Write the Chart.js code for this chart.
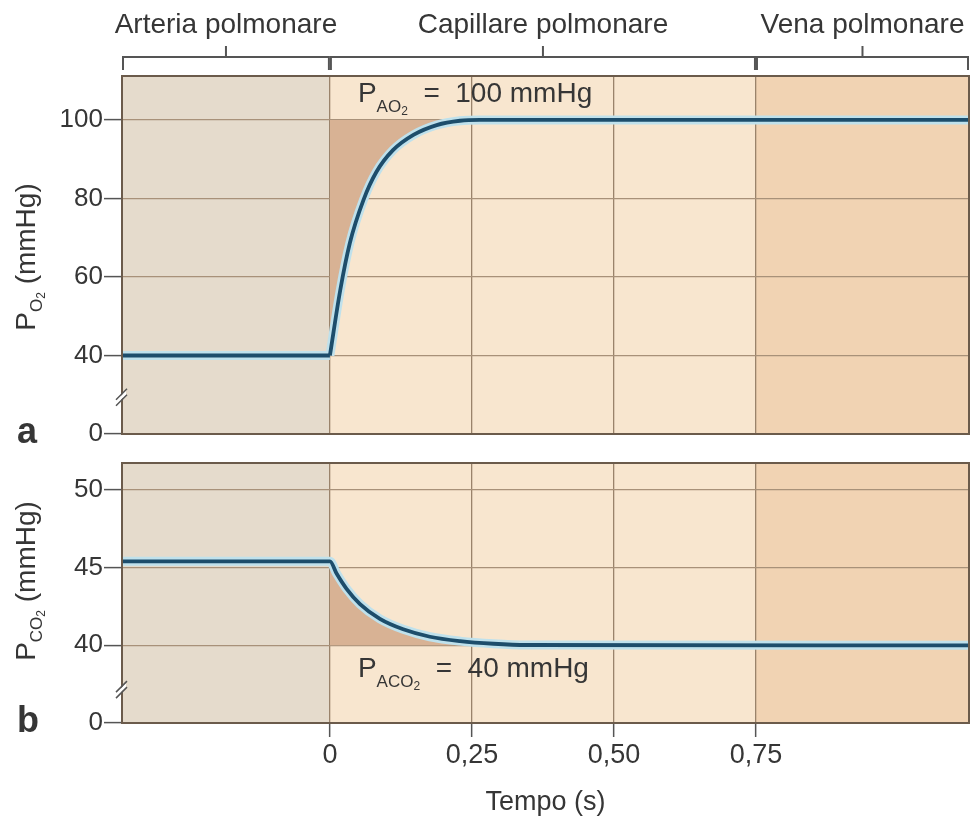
<!DOCTYPE html>
<html lang="it">
<head>
<meta charset="UTF-8">
<title>PO2 e PCO2 lungo il capillare polmonare</title>
<script src="https://cdn.jsdelivr.net/npm/chart.js"></script>
<style>
  body { margin: 0; background: #ffffff; }
  .wrap { position: relative; width: 974px; height: 823px; }
  canvas { position: absolute; left: 0; }
  #graficoO2 { top: 0; }
  #graficoCO2 { top: 445px; }
</style>
</head>
<body>
<div class="wrap">
  <canvas id="graficoO2" width="974" height="445"></canvas>
  <canvas id="graficoCO2" width="974" height="378"></canvas>
</div>
<script>
// --- Dati ---
const tempoO2   = [-0.366, 0, 0.018, 0.035, 0.059, 0.082, 0.111, 0.147, 0.188, 0.229, 0.264, 1.125];
const valoriO2  = [40, 40, 56.5, 68.6, 79.6, 86.8, 92.3, 96.2, 98.7, 99.8, 100, 100];
const tempoCO2  = [-0.366, 0, 0.012, 0.029, 0.053, 0.088, 0.129, 0.176, 0.229, 0.288, 0.346, 1.125];
const valoriCO2 = [45.4, 45.4, 44.6, 43.65, 42.65, 41.7, 41.03, 40.55, 40.27, 40.1, 40.02, 40];

const tickTempo      = [0, 0.25, 0.5, 0.75];
const etichetteTempo = ['0', '0,25', '0,50', '0,75'];
// il primo tick sta sotto l'interruzione dell'asse e vale "0"
const tickO2         = [20, 40, 60, 80, 100];
const etichetteO2    = ['0', '40', '60', '80', '100'];
const tickCO2        = [35, 40, 45, 50];
const etichetteCO2   = ['0', '40', '45', '50'];

const zone       = ['Arteria polmonare', 'Capillare polmonare', 'Vena polmonare'];
const limitiZone = [-0.366, 0, 0.75, 1.125];
const PAO2 = 100;
const PACO2 = 40;

const FONT = '"Liberation Sans", Arial, Helvetica, sans-serif';
const TESTO = '#363636';
Chart.defaults.font.family = FONT;
Chart.defaults.color = TESTO;

// disegna una sequenza di pezzi di testo [testo, spostamento verticale, dimensione]
function scriviRuns(ctx, x, y, runs) {
  for (const [t, dy, size] of runs) {
    ctx.font = size + 'px ' + FONT;
    ctx.fillText(t, x, y + dy);
    x += ctx.measureText(t).width;
  }
  return x;
}
function larghezzaRuns(ctx, runs) {
  let w = 0;
  for (const [t, , size] of runs) {
    ctx.font = size + 'px ' + FONT;
    w += ctx.measureText(t).width;
  }
  return w;
}

function punti(tempo, valori, da, a) {
  return tempo.slice(da, a).map((t, i) => ({ x: t, y: valori[da + i] }));
}

// spigolo = true: il tratto piano e la curva sono due linee separate (angolo vivo a t = 0)
function datasetsCurva(tempo, valori, riferimento, spigolo) {
  const tratti = spigolo
    ? [punti(tempo, valori, 0, 2), punti(tempo, valori, 1)]
    : [punti(tempo, valori, 0)];
  const curva = punti(tempo, valori, 1);
  const base = { pointRadius: 0, fill: false, cubicInterpolationMode: 'monotone' };
  const out = [];
  for (const d of tratti) {
    out.push({ ...base, data: d, borderColor: '#1d4d6b', borderWidth: 3.8, order: 0 });
    out.push({ ...base, data: d, borderColor: '#bfe1ec', borderWidth: 9, order: 1 });
  }
  out.push({ ...base, data: curva, borderWidth: 0, borderColor: 'rgba(0,0,0,0)',
             backgroundColor: '#d8b294', fill: { value: riferimento }, order: 2 });
  return out;
}

function assey(ticks, etichette) {
  return {
    type: 'linear',
    min: ticks[0],
    afterBuildTicks: s => { s.ticks = ticks.map(v => ({ value: v })); },
    afterFit: s => { s.width = 122; s.paddingTop = s.paddingBottom = 0; },
    border: { display: false },
    grid: { color: '#a89179', lineWidth: 1.2, tickLength: 18, tickColor: '#555', tickWidth: 1.5 },
    ticks: { autoSkip: false, padding: 1, font: { size: 26 }, color: TESTO,
             callback: (v, i) => etichette[i] }
  };
}

function assex(conEtichette) {
  return {
    type: 'linear',
    min: limitiZone[0],
    max: limitiZone[3],
    afterBuildTicks: s => { s.ticks = tickTempo.map(v => ({ value: v })); },
    afterFit: s => { s.height = conEtichette ? 100 : 0; s.paddingLeft = s.paddingRight = 0; },
    border: { display: false },
    grid: { color: '#9a836b', lineWidth: 1.3, drawTicks: conEtichette, tickLength: 14,
            tickColor: '#555', tickWidth: 1.5 },
    ticks: { display: conEtichette, autoSkip: false, maxRotation: 0, padding: 2,
             font: { size: 27 }, color: TESTO, callback: (v, i) => etichetteTempo[i] },
    title: { display: conEtichette, text: 'Tempo (s)', font: { size: 27 }, color: TESTO,
             padding: { top: 0, bottom: 4 } }
  };
}

// sfondi delle tre zone, cornice, titoli dell'asse y, lettere e interruzioni
const decorazioni = {
  id: 'decorazioni',
  beforeDraw(chart) {
    const { ctx, chartArea: a, scales: { x } } = chart;
    const colori = ['#e5dbcc', '#f8e6cf', '#f1d3b3'];
    ctx.save();
    for (let i = 0; i < 3; i++) {
      const x0 = x.getPixelForValue(limitiZone[i]);
      const x1 = x.getPixelForValue(limitiZone[i + 1]);
      ctx.fillStyle = colori[i];
      ctx.fillRect(x0, a.top, x1 - x0, a.bottom - a.top);
    }
    ctx.restore();
  },
  afterDatasetsDraw(chart, args, opt) {
    const { ctx, chartArea: a, scales: { x, y } } = chart;
    ctx.save();
    ctx.strokeStyle = '#6b5b4b';
    ctx.lineWidth = 2;
    ctx.strokeRect(a.left, a.top, a.right - a.left, a.bottom - a.top);

    // interruzione dell'asse y
    const yb = y.getPixelForValue((opt.tick0 + opt.tick1) / 2) + opt.dyRottura;
    ctx.fillStyle = '#ffffff';
    ctx.beginPath();
    ctx.moveTo(a.left - 6, yb + 4); ctx.lineTo(a.left + 4, yb - 6);
    ctx.lineTo(a.left + 4, yb - 2); ctx.lineTo(a.left - 6, yb + 8);
    ctx.closePath(); ctx.fill();
    ctx.strokeStyle = '#555'; ctx.lineWidth = 1.5;
    ctx.beginPath();
    ctx.moveTo(a.left - 6, yb + 3); ctx.lineTo(a.left + 5, yb - 8);
    ctx.moveTo(a.left - 6, yb + 9); ctx.lineTo(a.left + 5, yb - 2);
    ctx.stroke();

    // etichetta con il valore alveolare
    ctx.fillStyle = TESTO;
    ctx.textBaseline = 'alphabetic';
    ctx.textAlign = 'left';
    scriviRuns(ctx, x.getPixelForValue(0) + 28, y.getPixelForValue(opt.valore) + opt.dyNota, opt.nota);

    // titolo verticale dell'asse y
    const w = larghezzaRuns(ctx, opt.titolo);
    ctx.save();
    ctx.translate(35, (a.top + a.bottom) / 2 + opt.dyTitolo);
    ctx.rotate(-Math.PI / 2);
    scriviRuns(ctx, -w / 2, 0, opt.titolo);
    ctx.restore();

    // lettera del pannello
    ctx.font = 'bold 36px ' + FONT;
    ctx.fillText(opt.lettera, 17, a.bottom + 9);
    ctx.restore();
  }
};

// parentesi con i nomi dei tratti sopra il primo pannello
const parentesi = {
  id: 'parentesi',
  afterDraw(chart) {
    const { ctx, scales: { x } } = chart;
    ctx.save();
    ctx.strokeStyle = '#555';
    ctx.lineWidth = 2;
    ctx.fillStyle = TESTO;
    ctx.font = '28px ' + FONT;
    ctx.textAlign = 'center';
    ctx.textBaseline = 'alphabetic';
    for (let i = 0; i < 3; i++) {
      const x0 = x.getPixelForValue(limitiZone[i]) + 1;
      const x1 = x.getPixelForValue(limitiZone[i + 1]) - 1;
      const xm = (x0 + x1) / 2;
      ctx.beginPath();
      ctx.moveTo(x0, 70); ctx.lineTo(x0, 57); ctx.lineTo(x1, 57); ctx.lineTo(x1, 70);
      ctx.moveTo(xm, 57); ctx.lineTo(xm, 46);
      ctx.stroke();
      ctx.fillText(zone[i], xm, 33);
    }
    ctx.restore();
  }
};

new Chart(document.getElementById('graficoO2'), {
  type: 'line',
  data: { datasets: datasetsCurva(tempoO2, valoriO2, PAO2, true) },
  plugins: [decorazioni, parentesi],
  options: {
    responsive: false,
    animation: false,
    events: [],
    layout: { padding: { left: 0, right: 5, top: 76, bottom: 11 } },
    scales: {
      x: assex(false),
      y: { ...assey(tickO2, etichetteO2), max: 111.2 }
    },
    plugins: {
      legend: { display: false },
      tooltip: { enabled: false },
      decorazioni: {
        tick0: tickO2[0], tick1: tickO2[1], valore: PAO2, dyNota: -18, dyTitolo: 2,
        dyRottura: 2, lettera: 'a',
        nota: [['P', 0, 28], ['AO', 10, 17], ['2', 13, 12], ['  =  ' + PAO2 + ' mmHg', 0, 28]],
        titolo: [['P', 0, 28], ['O', 7, 17], ['2', 10, 12], [' (mmHg)', 0, 28]]
      }
    }
  }
});

new Chart(document.getElementById('graficoCO2'), {
  type: 'line',
  data: { datasets: datasetsCurva(tempoCO2, valoriCO2, PACO2, false) },
  plugins: [decorazioni],
  options: {
    responsive: false,
    animation: false,
    events: [],
    layout: { padding: { left: 0, right: 5, top: 18, bottom: 0 } },
    scales: {
      x: assex(true),
      y: { ...assey(tickCO2, etichetteCO2), max: 51.73 }
    },
    plugins: {
      legend: { display: false },
      tooltip: { enabled: false },
      decorazioni: {
        tick0: tickCO2[0], tick1: tickCO2[1], valore: PACO2, dyNota: 32, dyTitolo: -12,
        dyRottura: 5, lettera: 'b',
        nota: [['P', 0, 28], ['ACO', 10, 17], ['2', 13, 12], ['  =  ' + PACO2 + ' mmHg', 0, 28]],
        titolo: [['P', 0, 28], ['CO', 7, 17], ['2', 10, 12], [' (mmHg)', 0, 28]]
      }
    }
  }
});
</script>
</body>
</html>
